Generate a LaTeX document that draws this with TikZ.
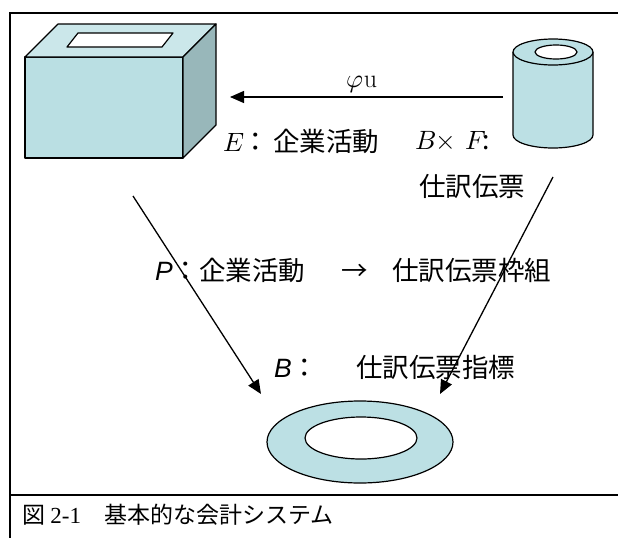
\documentclass[tikz,border=0pt]{standalone}
\usepackage{fontspec}
\usepackage{xcolor,tikz}
\usetikzlibrary{arrows.meta}
\newfontfamily\jpfont{Noto Sans CJK JP}
\newfontfamily\arialfont{Liberation Sans}
\newfontfamily\timesfont{Liberation Serif}
\newfontfamily\lmmath{Latin Modern Math}
\definecolor{boxFront}{HTML}{BADFE3}
\definecolor{boxTop}{HTML}{CBE7EA}
\definecolor{boxSide}{HTML}{98B7BA}
\definecolor{diskFill}{HTML}{BCE0E4}

\begin{document}
\begin{tikzpicture}[x=1pt, y=-1pt,
    shape line/.style={draw=black, line width=1.2pt, line join=round},
    map arrow/.style={line width=1.3pt, -{Triangle[length=14pt,width=12pt]}},
    jp label/.style={inner sep=0pt, font=\jpfont\fontsize{26.5}{30}\selectfont}]

% --- CANVAS & FRAME ---
\useasboundingbox (0,0) rectangle (618,538);
\def\frameL{10}
\def\frameT{13}
\def\capY{495}
\draw[line width=1.6pt] (618,\frameT) -- (\frameL,\frameT) -- (\frameL,538);
\draw[line width=1.6pt] (\frameL,\capY) -- (618,\capY);

% --- BOX (left): front, top, side and slot ---
\filldraw[shape line, fill=boxFront] (25,57) rectangle (183,158);
\filldraw[shape line, fill=boxTop] (25,57) -- (58,24) -- (216,24) -- (183,57) -- cycle;
\filldraw[shape line, fill=boxSide] (183,57) -- (216,24) -- (216,125) -- (183,158) -- cycle;
\filldraw[shape line, fill=white] (67,47) -- (78,33) -- (173,33) -- (162,47) -- cycle;
\coordinate (box-in) at (230,97);
\coordinate (box-out) at (133,196);

% --- CYLINDER (right) ---
\def\cylX{553}
\def\cylR{40}
\fill[diskFill] (\cylX-\cylR,52) -- (\cylX-\cylR,135)
  arc[start angle=180, end angle=0, x radius=\cylR, y radius=13] -- (\cylX+\cylR,52) -- cycle;
\draw[shape line] (\cylX-\cylR,52) -- (\cylX-\cylR,135)
  arc[start angle=180, end angle=0, x radius=\cylR, y radius=13] -- (\cylX+\cylR,52);
\filldraw[shape line, fill=diskFill] (\cylX,52) ellipse[x radius=\cylR, y radius=13];
\filldraw[shape line, fill=white] (\cylX+3,52) ellipse[x radius=21, y radius=7];
\coordinate (cyl-out) at (503,97);
\coordinate (cyl-down) at (553,177);

% --- RING (bottom) ---
\filldraw[shape line, fill=diskFill] (360,442) ellipse[x radius=93, y radius=41];
\filldraw[shape line, fill=white] (361,438) ellipse[x radius=56, y radius=21];
\coordinate (ring-l) at (261,394);
\coordinate (ring-r) at (440,394);

% --- MAPPINGS ---
\draw[map arrow] (cyl-out) -- (box-in);
\draw[map arrow] (box-out) -- (ring-l);
\draw[map arrow] (cyl-down) -- (ring-r);

% --- LABELS ---
\node[inner sep=0pt, font=\fontsize{26}{28}\selectfont] (phi) at (362,85) {{\lmmath 𝜑}u};
\node[jp label, anchor=west] (lblE) at (223,141) {{\lmmath 𝐸}：\hspace{4pt}企業活動};
\node[jp label, anchor=west] (lblBF) at (415,141) {{\lmmath 𝐵×\hspace{10pt}𝐹}:};
\node[jp label] (lblSlip) at (472,186) {仕訳伝票};
\node[jp label, anchor=west] (lblP) at (155,270)
  {{\arialfont\itshape P}：企業活動　\hspace{10pt}→\hspace{24pt}仕訳伝票枠組};
\node[jp label, anchor=west] (lblB) at (274,367)
  {{\arialfont\itshape B}：\hspace{38pt}仕訳伝票指標};

% --- CAPTION ---
\node[inner sep=0pt, anchor=west, font=\jpfont\fontsize{23}{26}\selectfont] (caption)
  at (22,515) {図 {\timesfont 2-1}　基本的な会計システム};

\end{tikzpicture}
\end{document}
